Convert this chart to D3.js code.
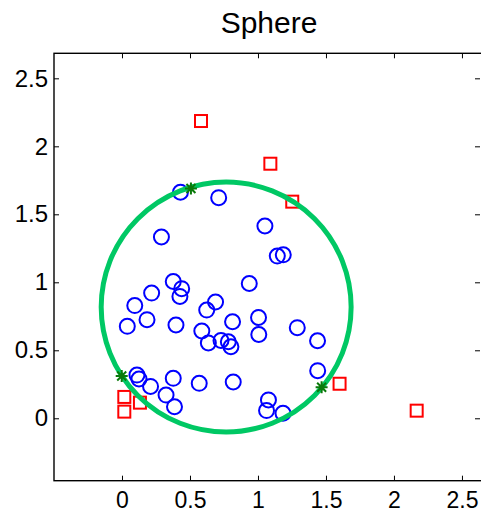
<!DOCTYPE html>
<html>
<head>
<meta charset="utf-8">
<script src="https://cdn.jsdelivr.net/npm/d3@7"></script>
<style>
  html, body { margin: 0; padding: 0; background: #fff; }
  svg { display: block; font-family: "Liberation Sans", Arial, Helvetica, sans-serif; }
</style>
</head>
<body>
<svg id="chart" width="481" height="514"></svg>
<script>
// Points inside the sphere (blue circles)
const insideX = [0.430, 0.711, 0.290, 1.051, 1.142, 1.186, 0.377, 0.439, 0.426, 0.218,
                 0.094, 0.936, 0.688, 0.623, 0.039, 0.184, 0.397, 0.587, 0.635, 0.728,
                 0.782, 0.801, 0.813, 1.004, 1.006, 1.289, 1.438, 1.439, 0.110, 0.125,
                 0.210, 0.377, 0.324, 0.386, 0.568, 0.818, 1.077, 1.063, 1.184];
const insideY = [1.662, 1.622, 1.333, 1.414, 1.193, 1.202, 1.006, 0.953, 0.896, 0.921,
                 0.829, 0.991, 0.855, 0.796, 0.676, 0.725, 0.686, 0.642, 0.554, 0.572,
                 0.563, 0.526, 0.710, 0.741, 0.616, 0.666, 0.570, 0.350, 0.318, 0.289,
                 0.234, 0.294, 0.171, 0.085, 0.257, 0.267, 0.135, 0.057, 0.037];

// Outliers (red squares)
const outlierX = [0.581, 1.091, 1.252, 1.600, 2.167, 0.017, 0.017, 0.132];
const outlierY = [2.186, 1.872, 1.593, 0.254, 0.056, 0.157, 0.049, 0.115];

// Support points on the boundary (green stars)
const supportX = [0.507, -0.002, 1.468];
const supportY = [1.690, 0.311, 0.228];

// Sphere: centre and radius
const sphereCenter = [0.766, 0.818];
const sphereRadius = 0.919;

const xTicks = [0, 0.5, 1, 1.5, 2, 2.5];
const yTicks = [0, 0.5, 1, 1.5, 2, 2.5];
const xDomain = [-0.5, 2.64];
const yDomain = [-0.459, 2.684];

const mLeft = 54, mRight = 481, mTop = 53.3, mBottom = 480.7;

const svg = d3.select("#chart");
const x = d3.scaleLinear().domain(xDomain).range([mLeft, mRight]);
const y = d3.scaleLinear().domain(yDomain).range([mBottom, mTop]);

// Title
svg.append("text")
  .attr("x", 269).attr("y", 33)
  .attr("text-anchor", "middle")
  .attr("font-size", 30)
  .attr("fill", "#000")
  .text("Sphere");

// Axes with ticks on all four sides
const tickLen = 5;
const fmt = d => d3.format("")(d);
const labelSize = 23;

svg.append("g").attr("transform", `translate(0,${mBottom})`)
  .call(d3.axisBottom(x).tickValues(xTicks).tickFormat(fmt).tickSizeInner(-tickLen).tickSizeOuter(0).tickPadding(11))
  .call(g => g.select(".domain").remove())
  .call(g => g.selectAll("text").attr("font-size", labelSize).attr("font-family", "Liberation Sans, Arial, sans-serif").attr("fill", "#000"));

svg.append("g").attr("transform", `translate(0,${mTop})`)
  .call(d3.axisTop(x).tickValues(xTicks).tickFormat("").tickSizeInner(-tickLen).tickSizeOuter(0))
  .call(g => g.select(".domain").remove());

svg.append("g").attr("transform", `translate(${mLeft},0)`)
  .call(d3.axisLeft(y).tickValues(yTicks).tickFormat(fmt).tickSizeInner(-tickLen).tickSizeOuter(0).tickPadding(6))
  .call(g => g.select(".domain").remove())
  .call(g => g.selectAll("text").attr("font-size", labelSize + 1).attr("font-family", "Liberation Sans, Arial, sans-serif").attr("fill", "#000"));

svg.append("g").attr("transform", `translate(${mRight - 1},0)`)
  .call(d3.axisRight(y).tickValues(yTicks).tickFormat("").tickSizeInner(-tickLen).tickSizeOuter(0))
  .call(g => g.select(".domain").remove());

svg.selectAll(".tick line").attr("stroke", "#000").attr("stroke-width", 1);

// Box
svg.append("rect")
  .attr("x", mLeft).attr("y", mTop)
  .attr("width", mRight - mLeft + 2).attr("height", mBottom - mTop)
  .attr("fill", "none").attr("stroke", "#000").attr("stroke-width", 1.4);

const plot = svg.append("g");

// Blue circles
plot.selectAll("circle.inside")
  .data(d3.range(insideX.length))
  .join("circle")
  .attr("class", "inside")
  .attr("cx", i => x(insideX[i]))
  .attr("cy", i => y(insideY[i]))
  .attr("r", 7.5)
  .attr("fill", "none")
  .attr("stroke", "#0000ff")
  .attr("stroke-width", 2);

// Red squares
const sq = 12;
plot.selectAll("rect.outlier")
  .data(d3.range(outlierX.length))
  .join("rect")
  .attr("class", "outlier")
  .attr("x", i => x(outlierX[i]) - sq / 2)
  .attr("y", i => y(outlierY[i]) - sq / 2)
  .attr("width", sq).attr("height", sq)
  .attr("fill", "none")
  .attr("stroke", "#ff0000")
  .attr("stroke-width", 2);

// Sphere boundary
plot.append("ellipse")
  .attr("cx", x(sphereCenter[0]))
  .attr("cy", y(sphereCenter[1]))
  .attr("rx", x(sphereCenter[0] + sphereRadius) - x(sphereCenter[0]))
  .attr("ry", y(sphereCenter[1]) - y(sphereCenter[1] + sphereRadius))
  .attr("fill", "none")
  .attr("stroke", "#00c864")
  .attr("stroke-width", 5);

// Support vectors: asterisk markers
const s = 6, d = 4.5;
const starPath = `M${-s},0L${s},0M0,${-s}L0,${s}M${-d},${-d}L${d},${d}M${-d},${d}L${d},${-d}`;
plot.selectAll("path.support")
  .data(d3.range(supportX.length))
  .join("path")
  .attr("class", "support")
  .attr("transform", i => `translate(${x(supportX[i])},${y(supportY[i])})`)
  .attr("d", starPath)
  .attr("fill", "none")
  .attr("stroke", "#0a7a0a")
  .attr("stroke-width", 2);
</script>
</body>
</html>
